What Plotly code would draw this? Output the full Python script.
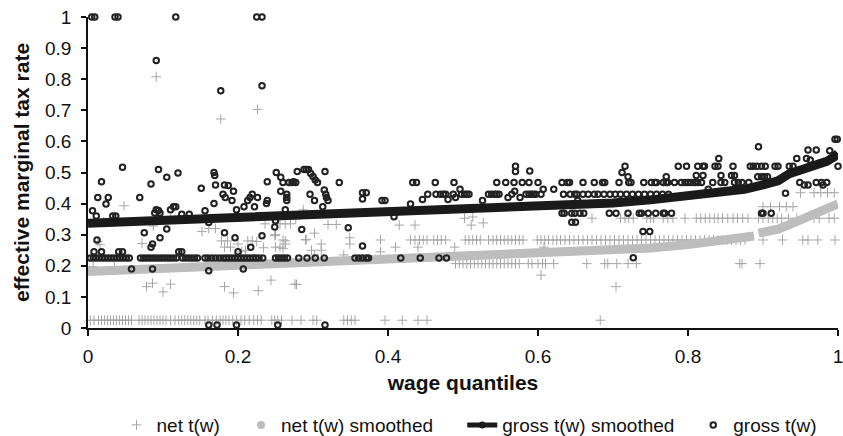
import plotly.graph_objects as go

# ---------------- data ----------------
# net t(w): grey crosses, rows at recurring values plus scattered points
net_row_025_x = [0.003, 0.008, 0.014, 0.018, 0.022, 0.026, 0.030, 0.034, 0.038, 0.042, 0.046, 0.050,
                 0.054, 0.058, 0.068, 0.072, 0.076, 0.080, 0.084, 0.088, 0.092, 0.096, 0.100, 0.104,
                 0.110, 0.116, 0.121, 0.125, 0.129, 0.133, 0.137, 0.141, 0.145, 0.149, 0.156, 0.160,
                 0.166, 0.171, 0.176, 0.180, 0.184, 0.188, 0.193, 0.198, 0.204, 0.209, 0.215, 0.221,
                 0.226, 0.231, 0.245, 0.249, 0.253, 0.258, 0.272, 0.284, 0.300, 0.305, 0.341, 0.346,
                 0.351, 0.356, 0.396, 0.419, 0.440, 0.452, 0.683]
net_row_283_x = [0.260, 0.290, 0.390, 0.430, 0.436, 0.442, 0.447, 0.452, 0.461, 0.466, 0.471, 0.477,
                 0.503, 0.508, 0.513, 0.518, 0.523, 0.534, 0.540, 0.545, 0.550, 0.555, 0.560, 0.565,
                 0.570, 0.575, 0.580, 0.599, 0.604, 0.609, 0.614, 0.620, 0.625, 0.630, 0.636, 0.642,
                 0.648, 0.654, 0.660, 0.666, 0.672, 0.678, 0.684, 0.690, 0.696, 0.702, 0.708, 0.714,
                 0.720, 0.726, 0.732, 0.738, 0.744, 0.750, 0.756, 0.762, 0.768, 0.774, 0.780, 0.786,
                 0.792, 0.798, 0.804, 0.810, 0.816, 0.822, 0.828, 0.834, 0.840, 0.846, 0.852, 0.858,
                 0.864, 0.870, 0.876, 0.900, 0.926, 0.953, 0.960, 0.973, 0.996]
net_row_353_x = [0.672, 0.710, 0.716, 0.721, 0.727, 0.745, 0.750, 0.754, 0.767, 0.773, 0.780, 0.796,
                 0.811, 0.817, 0.823, 0.829, 0.835, 0.840, 0.846, 0.853, 0.860, 0.866, 0.873, 0.880,
                 0.894, 0.900, 0.907, 0.913, 0.919, 0.925, 0.934, 0.945, 0.968, 0.975, 0.988, 0.995]
net_row_207_x = [0.490, 0.495, 0.500, 0.505, 0.510, 0.515, 0.520, 0.525, 0.530, 0.535, 0.540, 0.545,
                 0.550, 0.555, 0.560, 0.565, 0.570, 0.575, 0.587, 0.592, 0.600, 0.606, 0.610, 0.621,
                 0.665, 0.689, 0.693, 0.705, 0.720, 0.731, 0.869, 0.872, 0.896]
net_row_390_x = [0.900, 0.910, 0.922, 0.931, 0.940]
net_row_435_x = [0.950, 0.968, 0.977, 0.986, 0.995]
net_other_x = [0.091, 0.177, 0.226, 0.048, 0.021, 0.110, 0.007, 0.035, 0.013, 0.016, 0.072, 0.078,
               0.086, 0.100, 0.110, 0.087, 0.152, 0.161, 0.170, 0.178, 0.182, 0.190, 0.186, 0.182,
               0.194, 0.210, 0.213, 0.219, 0.225, 0.227, 0.234, 0.236, 0.249, 0.250, 0.256, 0.263,
               0.260, 0.244, 0.276, 0.256, 0.263, 0.270, 0.277, 0.287, 0.287, 0.320, 0.331, 0.250,
               0.263, 0.291, 0.302, 0.311, 0.311, 0.298, 0.302, 0.349, 0.349, 0.341, 0.278, 0.415,
               0.436, 0.390, 0.410, 0.440, 0.489, 0.502, 0.513, 0.511, 0.527, 0.604, 0.608, 0.704,
               0.200, 0.205]
net_other_y = [0.808, 0.672, 0.703, 0.393, 0.342, 0.350, 0.197, 0.197, 0.278, 0.268, 0.272, 0.133,
               0.144, 0.116, 0.141, 0.328, 0.310, 0.320, 0.320, 0.280, 0.260, 0.260, 0.280, 0.133,
               0.113, 0.250, 0.280, 0.280, 0.278, 0.120, 0.258, 0.335, 0.297, 0.260, 0.260, 0.280,
               0.255, 0.154, 0.141, 0.335, 0.335, 0.335, 0.350, 0.380, 0.370, 0.333, 0.333, 0.300,
               0.270, 0.285, 0.305, 0.270, 0.250, 0.250, 0.235, 0.290, 0.270, 0.235, 0.140, 0.331,
               0.331, 0.245, 0.260, 0.260, 0.260, 0.353, 0.357, 0.331, 0.338, 0.170, 0.260, 0.133,
               0.270, 0.245]

# net t(w) smoothed (None marks the small break near 0.89)
net_s_x = [0.000, 0.060, 0.120, 0.180, 0.250, 0.320, 0.400, 0.500, 0.600, 0.650, 0.700, 0.750,
           0.800, 0.850, 0.888, None, 0.894, 0.920, 0.940, 0.960, 0.977, 0.990, 1.000]
net_s_y = [0.182, 0.188, 0.194, 0.200, 0.205, 0.210, 0.216, 0.226, 0.236, 0.242, 0.249, 0.257,
           0.268, 0.282, 0.296, None, 0.305, 0.318, 0.337, 0.358, 0.379, 0.393, 0.399]

# gross t(w) smoothed
gross_s_x = [0.000, 0.060, 0.120, 0.180, 0.250, 0.320, 0.400, 0.500, 0.600, 0.650, 0.700, 0.750,
             0.800, 0.850, 0.875, 0.900, 0.920, 0.935, 0.950, 0.970, 0.985, 0.995, 1.000]
gross_s_y = [0.337, 0.342, 0.348, 0.354, 0.360, 0.367, 0.373, 0.380, 0.388, 0.395, 0.402, 0.412,
             0.424, 0.438, 0.446, 0.460, 0.473, 0.496, 0.508, 0.522, 0.536, 0.550, 0.562]

# gross t(w): dark open circles
gross_row_225_x = [0.003, 0.007, 0.011, 0.015, 0.019, 0.023, 0.027, 0.031, 0.035, 0.039, 0.043, 0.047,
                   0.051, 0.055, 0.070, 0.074, 0.078, 0.082, 0.086, 0.090, 0.094, 0.098, 0.102, 0.106,
                   0.110, 0.114, 0.118, 0.126, 0.130, 0.134, 0.138, 0.142, 0.146, 0.156, 0.160, 0.165,
                   0.170, 0.175, 0.180, 0.184, 0.188, 0.192, 0.196, 0.200, 0.204, 0.208, 0.212, 0.216,
                   0.220, 0.224, 0.228, 0.233, 0.250, 0.254, 0.258, 0.262, 0.266, 0.281, 0.292, 0.303,
                   0.315, 0.356, 0.361, 0.366, 0.371, 0.374, 0.417, 0.443, 0.468, 0.478]
gross_row_245_x = [0.008, 0.018, 0.041, 0.046, 0.121, 0.125, 0.200]
gross_row_010_x = [0.161, 0.172, 0.198, 0.253, 0.316]
gross_row_100_x = [0.005, 0.009, 0.036, 0.040, 0.117, 0.225, 0.232]
gross_row_468_x = [0.260, 0.268, 0.272, 0.277, 0.306, 0.335, 0.433, 0.438, 0.463, 0.488, 0.545, 0.557,
                   0.568, 0.579, 0.588, 0.600, 0.632, 0.639, 0.642, 0.660, 0.675, 0.686, 0.689, 0.708,
                   0.721, 0.724, 0.741, 0.751, 0.756, 0.758, 0.767, 0.771, 0.773, 0.782, 0.791, 0.796,
                   0.800, 0.804, 0.809, 0.813, 0.818, 0.833, 0.844, 0.849, 0.862, 0.867, 0.872, 0.881,
                   0.949, 0.971, 0.978, 0.985]
gross_row_520_x = [0.570, 0.716, 0.787, 0.798, 0.813, 0.820, 0.822, 0.836, 0.840, 0.860, 0.883, 0.887,
                   0.892, 0.898, 0.903, 0.916, 0.920, 0.935, 0.940, 1.000]
gross_row_430_x = [0.453, 0.464, 0.470, 0.474, 0.477, 0.487, 0.498, 0.502, 0.505, 0.508, 0.534, 0.538,
                   0.542, 0.545, 0.548, 0.584, 0.588, 0.591, 0.594, 0.597, 0.604, 0.634, 0.643, 0.649,
                   0.652, 0.660, 0.667, 0.675, 0.680, 0.688, 0.696, 0.703, 0.710, 0.718, 0.726, 0.734,
                   0.742, 0.750, 0.758, 0.766, 0.774]
gross_row_369_x = [0.632, 0.635, 0.645, 0.649, 0.656, 0.661, 0.695, 0.704, 0.720, 0.735, 0.738, 0.747,
                   0.757, 0.767, 0.769, 0.778, 0.898, 0.900, 0.911]
gross_other_x = [0.091, 0.177, 0.232, 0.894, 0.996, 0.999, 0.841,
                 0.006, 0.011, 0.013, 0.018, 0.024, 0.027, 0.046, 0.033, 0.037, 0.069, 0.084, 0.094,
                 0.089, 0.091, 0.094, 0.096, 0.105, 0.120, 0.110, 0.114, 0.117, 0.125, 0.135, 0.151,
                 0.156, 0.168, 0.169, 0.170, 0.168, 0.180, 0.182, 0.183, 0.187, 0.194, 0.198, 0.192,
                 0.208, 0.213, 0.216, 0.219, 0.222, 0.226, 0.238, 0.239, 0.239, 0.251, 0.257, 0.257,
                 0.265, 0.265, 0.265, 0.263, 0.274, 0.279, 0.288, 0.291, 0.294, 0.297, 0.300, 0.303,
                 0.316, 0.315, 0.296, 0.302, 0.317, 0.318, 0.320, 0.313, 0.366, 0.366, 0.371, 0.392,
                 0.396, 0.430, 0.446, 0.480, 0.490, 0.496, 0.526, 0.569, 0.560, 0.565, 0.576, 0.570,
                 0.589, 0.607, 0.621, 0.712, 0.720, 0.653, 0.771, 0.811, 0.820, 0.844, 0.858, 0.862,
                 0.827, 0.945, 0.958, 0.963, 0.960, 0.971, 0.989, 0.893, 0.898, 0.902, 0.906, 0.960,
                 0.930, 0.955, 0.980,
                 0.012, 0.058, 0.075, 0.084, 0.086, 0.086, 0.096, 0.105, 0.161, 0.161, 0.182, 0.196,
                 0.207, 0.217, 0.232, 0.249, 0.250, 0.285, 0.347, 0.366, 0.408, 0.650, 0.645, 0.749,
                 0.740, 0.727]
gross_other_y = [0.860, 0.763, 0.779, 0.583, 0.607, 0.607, 0.545,
                 0.377, 0.360, 0.420, 0.470, 0.399, 0.420, 0.517, 0.360, 0.360, 0.420, 0.463, 0.510,
                 0.370, 0.380, 0.378, 0.370, 0.485, 0.498, 0.380, 0.390, 0.390, 0.366, 0.366, 0.449,
                 0.377, 0.500, 0.490, 0.460, 0.400, 0.430, 0.460, 0.420, 0.458, 0.440, 0.380, 0.410,
                 0.390, 0.410, 0.420, 0.430, 0.390, 0.420, 0.400, 0.470, 0.410, 0.500, 0.485, 0.440,
                 0.430, 0.420, 0.410, 0.380, 0.470, 0.503, 0.510, 0.510, 0.510, 0.497, 0.487, 0.476,
                 0.503, 0.444, 0.430, 0.410, 0.430, 0.420, 0.410, 0.390, 0.435, 0.415, 0.435, 0.410,
                 0.410, 0.399, 0.413, 0.413, 0.420, 0.446, 0.410, 0.440, 0.420, 0.430, 0.420, 0.503,
                 0.505, 0.446, 0.446, 0.500, 0.486, 0.410, 0.486, 0.490, 0.490, 0.490, 0.490, 0.490,
                 0.446, 0.545, 0.545, 0.540, 0.572, 0.572, 0.570, 0.486, 0.486, 0.486, 0.486, 0.460,
                 0.433, 0.460, 0.460,
                 0.283, 0.190, 0.306, 0.260, 0.270, 0.190, 0.290, 0.318, 0.339, 0.184, 0.306, 0.290,
                 0.190, 0.260, 0.297, 0.325, 0.345, 0.317, 0.322, 0.264, 0.358, 0.340, 0.340, 0.310,
                 0.310, 0.226]

x_tickvals = [0, 0.2, 0.4, 0.6, 0.8, 1]
x_ticktext = ["0", "0.2", "0.4", "0.6", "0.8", "1"]
y_tickvals = [0, 0.1, 0.2, 0.3, 0.4, 0.5, 0.6, 0.7, 0.8, 0.9, 1]
y_ticktext = ["0", "0.1", "0.2", "0.3", "0.4", "0.5", "0.6", "0.7", "0.8", "0.9", "1"]

# ---------------- assemble series ----------------
def rows(pairs):
    xs, ys = [], []
    for xlist, yval in pairs:
        xs += xlist
        ys += [yval] * len(xlist)
    return xs, ys

nx, ny = rows([(net_row_025_x, 0.025), (net_row_283_x, 0.283), (net_row_353_x, 0.353),
               (net_row_207_x, 0.207), (net_row_390_x, 0.390), (net_row_435_x, 0.435)])
nx += net_other_x
ny += net_other_y

gx, gy = rows([(gross_row_225_x, 0.225), (gross_row_245_x, 0.245), (gross_row_010_x, 0.010),
               (gross_row_100_x, 1.0), (gross_row_468_x, 0.468), (gross_row_520_x, 0.520),
               (gross_row_430_x, 0.430), (gross_row_369_x, 0.369)])
gx += gross_other_x
gy += gross_other_y

FONT = "Liberation Sans, Arial, sans-serif"
GREY_CROSS = "#a6a6a6"
GREY_BAND = "#bdbdbd"
DARK = "#1a1a1a"

fig = go.Figure()

# net t(w)
fig.add_trace(go.Scatter(x=nx, y=ny, mode="markers", name="net t(w)",
                         marker=dict(symbol="cross-thin-open", size=7, color=GREY_CROSS,
                                     line=dict(color=GREY_CROSS, width=1)),
                         cliponaxis=False, legend="legend"))
# net t(w) smoothed
fig.add_trace(go.Scatter(x=net_s_x, y=net_s_y, mode="lines", name="net t(w) smoothed",
                         line=dict(color=GREY_BAND, width=9), showlegend=False))
fig.add_trace(go.Scatter(x=[None], y=[None], mode="markers", name="net t(w) smoothed",
                         marker=dict(symbol="circle", size=8, color=GREY_BAND), legend="legend2"))
# gross t(w)
fig.add_trace(go.Scatter(x=gx, y=gy, mode="markers", name="gross t(w)",
                         marker=dict(symbol="circle-open", size=5.5, color="#222222",
                                     line=dict(color="#222222", width=2)),
                         cliponaxis=False, legend="legend4"))
# gross t(w) smoothed
fig.add_trace(go.Scatter(x=gross_s_x, y=gross_s_y, mode="lines", name="gross t(w) smoothed",
                         line=dict(color=DARK, width=9), showlegend=False, cliponaxis=False))
fig.add_trace(go.Scatter(x=[None], y=[None], mode="lines+markers", name="gross t(w) smoothed",
                         line=dict(color=DARK, width=5),
                         marker=dict(symbol="circle", size=7, color=DARK), legend="legend3"))

leg_common = dict(orientation="h", yanchor="middle", y=-0.312, xanchor="left",
                  bgcolor="rgba(0,0,0,0)", font=dict(family=FONT, size=19, color="#111"))

fig.update_layout(
    width=843, height=436,
    margin=dict(l=88, r=5, t=17, b=108, autoexpand=False),
    paper_bgcolor="white", plot_bgcolor="white",
    font=dict(family=FONT, size=19, color="#111"),
    legend=dict(x=0.038, **leg_common),
    legend2=dict(x=0.204, **leg_common),
    legend3=dict(x=0.499, **leg_common),
    legend4=dict(x=0.807, **leg_common),
    xaxis=dict(range=[0, 1], tickvals=x_tickvals, ticktext=x_ticktext,
               showgrid=False, zeroline=False, showline=True, linecolor="#111", linewidth=1.5,
               ticks="outside", ticklen=6, tickcolor="#111", tickwidth=1.5,
               ticklabelstandoff=4, ticklabeloverflow="allow", automargin=False,
               title=dict(text="<b>wage quantiles</b>", font=dict(family=FONT, size=21), standoff=10)),
    yaxis=dict(range=[0, 1], tickvals=y_tickvals, ticktext=y_ticktext,
               showgrid=False, zeroline=False, showline=True, linecolor="#111", linewidth=1.5,
               ticks="outside", ticklen=5, tickcolor="#111", tickwidth=1.5,
               ticklabelstandoff=6, ticklabeloverflow="allow", automargin=False,
               title=dict(text="<b>effective marginal tax rate</b>", font=dict(family=FONT, size=21),
                          standoff=10)),
)

fig.write_html("out.html", config={"displayModeBar": False},
               post_script="document.body.style.margin='0';")
